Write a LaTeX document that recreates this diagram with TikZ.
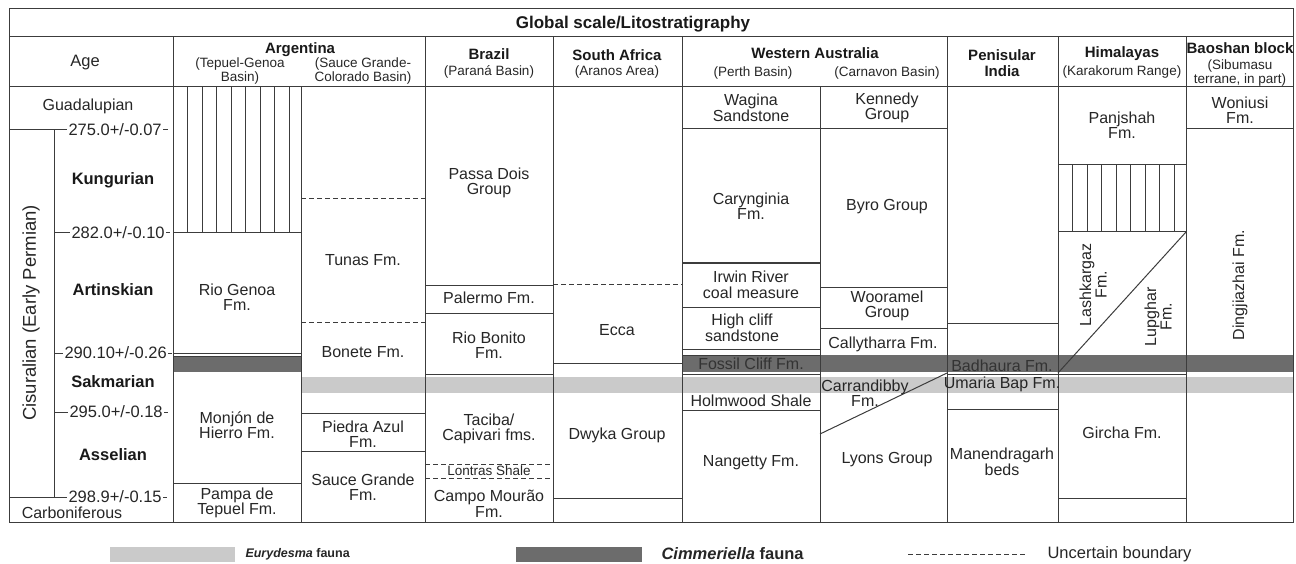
\documentclass[tikz,border=0pt]{standalone}
\usepackage{fontspec}
\setmainfont{Liberation Sans}
\definecolor{lin}{RGB}{60,60,60}
\definecolor{darkband}{RGB}{108,108,108}
\definecolor{lightband}{RGB}{202,202,202}

\begin{document}
\begin{tikzpicture}[x=1pt,y=-1pt,line width=1pt,
    txt/.style={font=\fontsize{16}{15.5}\selectfont, align=center, inner sep=0pt, text=black!85},
    hd/.style={font=\fontsize{15}{16}\selectfont\bfseries, align=center, inner sep=0pt, text=black!90},
    sub/.style={font=\fontsize{13.5}{11.5}\selectfont, align=center, inner sep=0pt, text=black!85},
    agel/.style={font=\fontsize{16.5}{16.5}\selectfont, anchor=west, inner sep=1pt, text=black!85},
    stg/.style={font=\fontsize{16.5}{16.5}\selectfont\bfseries, inner sep=0pt, text=black!90},
    unc/.style={dashed, dash pattern=on 5pt off 3pt},
    hatch/.style={line width=0.8pt}]
    \useasboundingbox (0,0) rectangle (1296,564);

    \fill[darkband] (173,356) rectangle (301,372);
    \fill[darkband] (682,355) rectangle (1293,372);
    \fill[lightband] (301,377) rectangle (1293,393);

    \draw[lin] (9,9) rectangle (1293,522);
    \draw[lin] (9,37) -- (1293,37);
    \draw[lin] (9,87) -- (1293,87);
    \foreach \x in {173,425,553,682,947,1058,1186}
        \draw[lin] (\x,37) -- (\x,522);
    \foreach \x in {301,820}
        \draw[lin] (\x,87) -- (\x,522);

    \node[font=\fontsize{17}{17}\selectfont\bfseries, text=black!90] (title) at (633,24) {Global scale/Litostratigraphy};

    \node[txt, font=\fontsize{16.5}{16.5}\selectfont] (age) at (85,63) {Age};
    \node[hd] (arg) at (300,50) {Argentina};
    \node[sub] (tepuel) at (240,71) {(Tepuel-Genoa\\Basin)};
    \node[sub] (sauce) at (363,71) {(Sauce Grande-\\Colorado Basin)};
    \node[hd] (bra) at (489,54) {Brazil};
    \node[sub] (parana) at (489,72) {(Paran\'a Basin)};
    \node[hd] (saf) at (617,55) {South Africa};
    \node[sub] (aranos) at (617,72) {(Aranos Area)};
    \node[hd] (wau) at (815,53) {Western Australia};
    \node[sub] (perth) at (753,73) {(Perth Basin)};
    \node[sub] (carn) at (887,73) {(Carnavon Basin)};
    \node[hd] (ind) at (1002,63) {Penisular\\India};
    \node[hd] (him) at (1122,54) {Himalayas};
    \node[sub] (kara) at (1122,72) {(Karakorum Range)};
    \node[hd] (bao) at (1240,48) {Baoshan block};
    \node[sub] (sibu) at (1240,73) {(Sibumasu\\terrane, in part)};

    \node[txt] (guad) at (88,106) {Guadalupian};
    \node[agel] (a275) at (67,130) {275.0+/-0.07};
    \node[agel] (a282) at (70,233) {282.0+/-0.10};
    \node[agel] (a290) at (63,353) {290.10+/-0.26};
    \node[agel] (a295) at (68,412) {295.0+/-0.18};
    \node[agel] (a298) at (67,497) {298.9+/-0.15};
    \draw[lin] (9,130) -- (a275.west);
    \draw[lin] (a275.east) -- ++(5,0);
    \draw[lin] (54,233) -- (a282.west);
    \draw[lin] (a282.east) -- ++(4,0);
    \draw[lin] (54,353) -- (a290.west);
    \draw[lin] (a290.east) -- ++(4,0);
    \draw[lin] (54,412) -- (a295.west);
    \draw[lin] (a295.east) -- ++(4,0);
    \draw[lin] (9,497) -- (a298.west);
    \draw[lin] (a298.east) -- ++(4,0);
    \draw[lin] (54,130) -- (54,497);
    \node[stg] (kung) at (113,180) {Kungurian};
    \node[stg] (art) at (113,290) {Artinskian};
    \node[stg] (sak) at (113,382) {Sakmarian};
    \node[stg] (ass) at (113,455) {Asselian};
    \node[txt, font=\fontsize{18.5}{18.5}\selectfont, rotate=90] (cis) at (31,313) {Cisuralian (Early Permian)};
    \node[txt] (carb) at (72,513) {Carboniferous};

    \foreach \k in {1,...,8}
        \draw[lin, hatch] (173+14.5*\k,87) -- (173+14.5*\k,233);
    \draw[lin] (173,233) -- (301,233);
    \draw[lin] (173,353) -- (301,353);
    \draw[lin] (173,356) -- (301,356);
    \draw[lin] (173,483) -- (301,483);
    \node[txt] (riogenoa) at (237,297) {Rio Genoa\\Fm.};
    \node[txt] (monjon) at (237,425) {Monj\'on de\\Hierro Fm.};
    \node[txt] (pampa) at (237,503) {Pampa de\\Tepuel Fm.};

    \draw[lin, unc] (301,199) -- (425,199);
    \draw[lin, unc] (301,322) -- (425,322);
    \draw[lin] (301,413) -- (425,413);
    \draw[lin] (301,451) -- (425,451);
    \node[txt] (tunas) at (363,260) {Tunas Fm.};
    \node[txt] (bonete) at (363,352) {Bonete Fm.};
    \node[txt] (piedra) at (363,434) {Piedra Azul\\Fm.};
    \node[txt] (sgrande) at (363,487) {Sauce Grande\\Fm.};

    \draw[lin] (425,285) -- (553,285);
    \draw[lin] (425,313) -- (553,313);
    \draw[lin] (425,374) -- (553,374);
    \draw[lin, unc] (425,464) -- (553,464);
    \draw[lin, unc] (425,478) -- (553,478);
    \node[txt] (passa) at (489,183) {Passa Dois\\Group};
    \node[txt] (palermo) at (489,298) {Palermo Fm.};
    \node[txt] (bonito) at (489,345) {Rio Bonito\\Fm.};
    \node[txt] (taciba) at (489,429) {Taciba/\\Capivari fms.};
    \node[txt, font=\fontsize{13.5}{13.5}\selectfont] (lontras) at (489,471) {Lontras Shale};
    \node[txt] (campo) at (489,504) {Campo Mour\~ao\\Fm.};

    \draw[lin, unc] (553,284) -- (682,284);
    \draw[lin] (553,363) -- (682,363);
    \draw[lin] (553,498) -- (682,498);
    \node[txt] (ecca) at (617,330) {Ecca};
    \node[txt] (dwyka) at (617,435) {Dwyka Group};

    \draw[lin] (682,129) -- (820,129);
    \draw[lin] (682,263) -- (820,263);
    \draw[lin] (682,307) -- (820,307);
    \draw[lin] (682,349) -- (820,349);
    \draw[lin] (682,355) -- (820,355);
    \draw[lin] (682,374) -- (820,374);
    \draw[lin] (682,410) -- (820,410);
    \node[txt] (wagina) at (751,108) {Wagina\\Sandstone};
    \node[txt] (caryn) at (751,206) {Carynginia\\Fm.};
    \node[txt] (irwin) at (751,285) {Irwin River\\coal measure};
    \node[txt] (highcliff) at (742,328) {High cliff\\sandstone};
    \node[txt, text=black!80] (fossil) at (751,364) {Fossil Cliff Fm.};
    \node[txt] (holm) at (751,401) {Holmwood Shale};
    \node[txt] (nang) at (751,463) {Nangetty Fm.};

    \draw[lin] (820,129) -- (947,129);
    \draw[lin] (820,287) -- (947,287);
    \draw[lin] (820,328) -- (947,328);
    \draw[lin] (820,434) -- (947,373);
    \node[txt] (kennedy) at (887,108) {Kennedy\\Group};
    \node[txt] (byro) at (887,207) {Byro Group};
    \node[txt] (wooramel) at (887,306) {Wooramel\\Group};
    \node[txt] (cally) at (883,344) {Callytharra Fm.};
    \node[txt] (carran) at (865,393) {Carrandibby\\Fm.};
    \node[txt] (lyons) at (887,460) {Lyons Group};

    \draw[lin] (947,323) -- (1058,323);
    \draw[lin] (947,374) -- (1058,374);
    \draw[lin] (947,409) -- (1058,409);
    \node[txt, text=black!80] (badh) at (1002,366) {Badhaura Fm.};
    \node[txt] (umaria) at (1002,384) {Umaria Bap Fm.};
    \node[txt] (manen) at (1002,462) {Manendragarh\\beds};

    \draw[lin] (1058,165) -- (1186,165);
    \foreach \k in {1,...,8}
        \draw[lin, hatch] (1058+14.5*\k,165) -- (1058+14.5*\k,232);
    \draw[lin] (1058,232) -- (1186,232);
    \draw[lin] (1186,232) -- (1058,373);
    \draw[lin] (1058,374) -- (1186,374);
    \draw[lin] (1058,498) -- (1186,498);
    \node[txt] (panj) at (1122,125) {Panjshah\\Fm.};
    \node[txt, rotate=90] (lash) at (1093,285) {Lashkargaz\\Fm.};
    \node[txt, rotate=90] (lupg) at (1158,317) {Lupghar\\Fm.};
    \node[txt] (gircha) at (1122,433) {Gircha Fm.};

    \draw[lin] (1186,129) -- (1293,129);
    \node[txt] (woni) at (1240,110) {Woniusi\\Fm.};
    \node[txt, rotate=90] (ding) at (1240,285) {Dingjiazhai Fm.};

    \fill[lightband] (110,547) rectangle (235,562);
    \node[txt, anchor=west, font=\fontsize{12.5}{12.5}\selectfont\bfseries] (eury) at (245,554) {\textit{Eurydesma} fauna};
    \fill[darkband] (516,547) rectangle (642,562);
    \node[txt, anchor=west, font=\fontsize{16.5}{16.5}\selectfont\bfseries] (cimm) at (661,554) {\textit{Cimmeriella} fauna};
    \coordinate (uncs) at (908,554);
    \node[txt, anchor=west, font=\fontsize{16.5}{16.5}\selectfont] (uncl) at (1047,554) {Uncertain boundary};
    \draw[lin, unc, line width=0.8pt] (uncs) -- ([xshift=-20pt]uncl.west);
\end{tikzpicture}
\end{document}
